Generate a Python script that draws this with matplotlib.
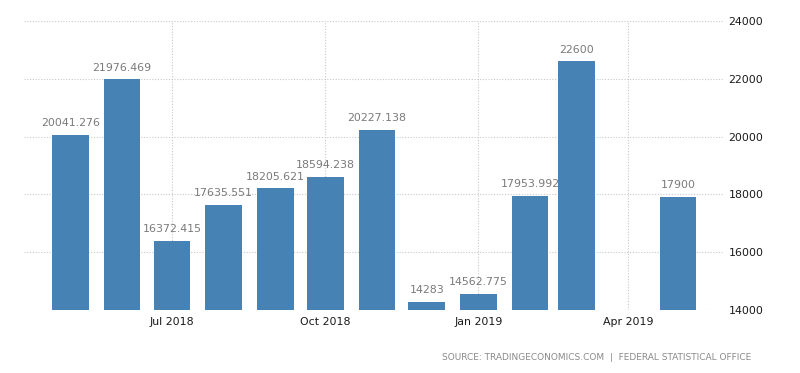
import matplotlib
matplotlib.use("Agg")
import matplotlib.pyplot as plt
import matplotlib.dates as mdates
import datetime as dt

months = ["2018-05", "2018-06", "2018-07", "2018-08", "2018-09", "2018-10", "2018-11",
          "2018-12", "2019-01", "2019-02", "2019-03", "2019-04", "2019-05"]
values = [20041.276, 21976.469, 16372.415, 17635.551, 18205.621, 18594.238, 20227.138,
          14283, 14562.775, 17953.992, 22600, None, 17900]
labels = ["20041.276", "21976.469", "16372.415", "17635.551", "18205.621", "18594.238", "20227.138",
          "14283", "14562.775", "17953.992", "22600", "", "17900"]
tick_months = ["2018-07", "2018-10", "2019-01", "2019-04"]
tick_labels = ["Jul 2018", "Oct 2018", "Jan 2019", "Apr 2019"]
yticks = [14000, 16000, 18000, 20000, 22000, 24000]

def to_date(s):
    y, m = s.split("-")
    return dt.datetime(int(y), int(m), 1)

fig = plt.figure(figsize=(8.0, 3.73), dpi=100)
ax = fig.add_axes([24/800, 1-310/373, (723-24)/800, (310-21)/373])

bar_color = "#4682b4"
xs, ys, ls = [], [], []
for m, v, l in zip(months, values, labels):
    if v is None:
        continue
    xs.append(mdates.date2num(to_date(m)))
    ys.append(v)
    ls.append(l)

base = 14000
ax.bar(xs, [v - base for v in ys], bottom=base, width=22, color=bar_color, zorder=2)
for x, v, l in zip(xs, ys, ls):
    ax.annotate(l, (x, v), xytext=(0, 5), textcoords="offset points",
                ha="center", va="bottom", fontsize=7.9, color="#7a7a7a", zorder=3)

ax.set_xlim(mdates.date2num(dt.datetime(2018, 4, 3)), mdates.date2num(dt.datetime(2019, 5, 28)))
ax.set_ylim(14000, 24000)
ax.set_yticks(yticks)
ax.set_yticklabels([str(t) for t in yticks])
ax.yaxis.tick_right()
ax.set_xticks([mdates.date2num(to_date(m)) for m in tick_months])
ax.set_xticklabels(tick_labels)
ax.tick_params(axis="both", length=0, labelsize=7.9, colors="#1a1a1a")
ax.tick_params(axis="y", pad=4)
ax.tick_params(axis="x", pad=5)
ax.grid(True, color="#c8c8c8", linestyle=(0, (1, 1.5)), linewidth=0.8, zorder=0)
ax.set_axisbelow(True)
for s in ax.spines.values():
    s.set_visible(False)

fig.text(751/800, 1-357/373, "SOURCE: TRADINGECONOMICS.COM  |  FEDERAL STATISTICAL OFFICE",
         ha="right", va="center", fontsize=6.5, color="#8a8a8a")

fig.savefig("out.png", dpi=100, facecolor="white")
